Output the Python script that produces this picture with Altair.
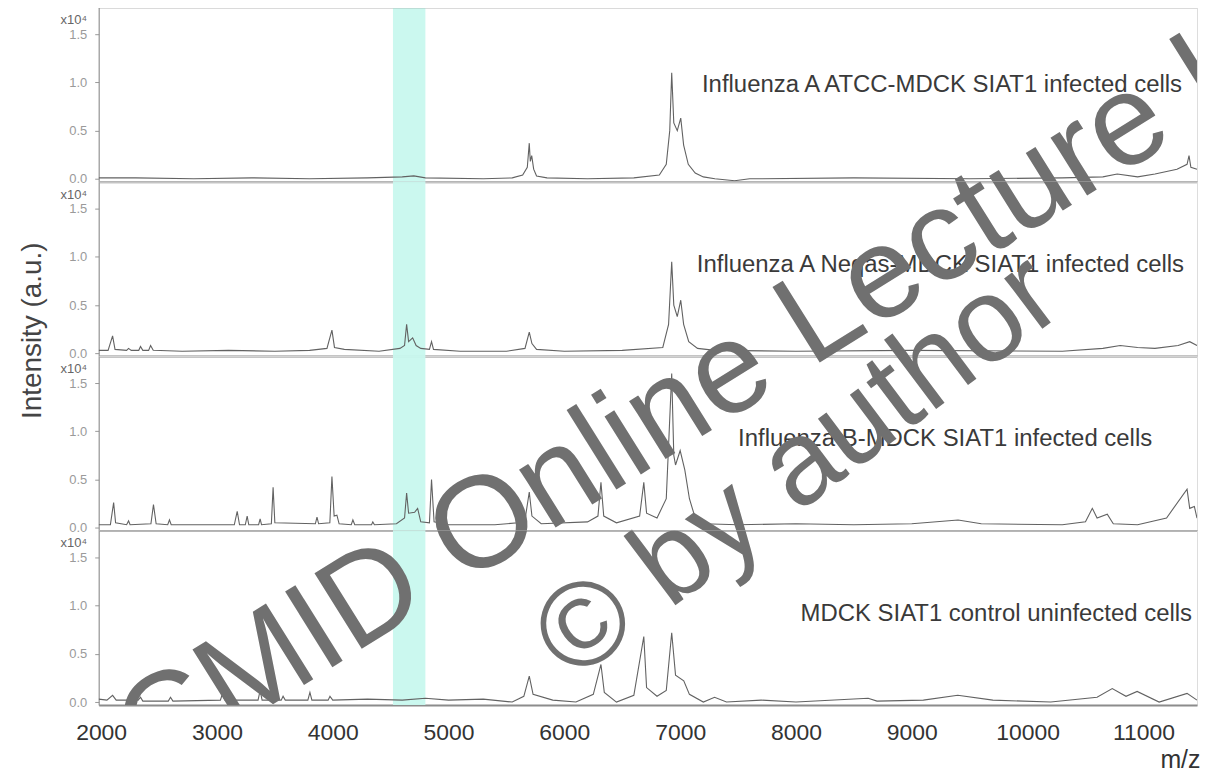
import altair as alt
import pandas as pd

# ---------------- data ----------------
mz_domain = [1979, 11463]
x_ticks = [2000, 3000, 4000, 5000, 6000, 7000, 8000, 9000, 10000, 11000]
y_ticks = [0.0, 0.5, 1.0, 1.5]
y_domain = [-0.03, 1.78]

panel_labels = [
    "Influenza A ATCC-MDCK SIAT1 infected cells",
    "Influenza A Neqas-MDCK SIAT1 infected cells",
    "Influenza B-MDCK SIAT1 infected cells",
    "MDCK SIAT1 control uninfected cells",
]

band_start = [4520]
band_end = [4800]

p1_mz = [1979, 2300, 2800, 3300, 3800, 4300, 4600, 4700, 4800, 5300,
         5550, 5640, 5680, 5697, 5706, 5718, 5735, 5760, 5850, 6200,
         6600, 6820, 6880, 6910, 6927, 6945, 6975, 7005, 7030, 7070,
         7130, 7200, 7300, 7470, 7600, 8500, 9500, 10300, 10650, 10774,
         10950, 11100, 11290, 11377, 11394, 11410, 11463]
p1_int = [0.01, 0.01, 0.0, 0.01, 0.0, 0.01, 0.02, 0.03, 0.01, 0.0,
          0.01, 0.04, 0.12, 0.37, 0.18, 0.24, 0.1, 0.03, 0.01, 0.0,
          0.01, 0.04, 0.15, 0.5, 1.1, 0.58, 0.5, 0.63, 0.35, 0.15,
          0.06, 0.02, 0.0, -0.02, 0.0, 0.01, 0.0, 0.01, 0.02, 0.05,
          0.02, 0.05, 0.1, 0.15, 0.24, 0.12, 0.1]

p2_mz = [1979, 2060, 2099, 2120, 2220, 2237, 2260, 2325, 2340, 2360,
         2410, 2427, 2450, 2700, 3100, 3500, 3800, 3950, 3993, 4015,
         4100, 4400, 4580, 4620, 4638, 4655, 4690, 4720, 4760, 4835,
         4853, 4870, 5100, 5500, 5660, 5697, 5720, 5760, 6000, 6500,
         6850, 6900, 6927, 6945, 6975, 7005, 7030, 7074, 7150, 7300,
         8000, 9000, 10300, 10650, 10800, 10950, 11100, 11300, 11400, 11463]
p2_int = [0.03, 0.03, 0.18, 0.04, 0.03, 0.05, 0.03, 0.03, 0.07, 0.03,
          0.03, 0.08, 0.03, 0.02, 0.03, 0.02, 0.03, 0.05, 0.24, 0.06,
          0.04, 0.02, 0.05, 0.08, 0.3, 0.12, 0.16, 0.08, 0.05, 0.04,
          0.12, 0.04, 0.02, 0.02, 0.05, 0.22, 0.1, 0.04, 0.02, 0.03,
          0.06, 0.3, 0.95, 0.5, 0.38, 0.55, 0.3, 0.12, 0.05, 0.03,
          0.02, 0.03, 0.02, 0.05, 0.08, 0.06, 0.05, 0.08, 0.12, 0.08]

p3_mz = [1979, 2080, 2108, 2125, 2220, 2237, 2250, 2430, 2452, 2475,
         2575, 2590, 2605, 3150, 3175, 3195, 3245, 3261, 3275, 3360,
         3373, 3385, 3470, 3485, 3500, 3850, 3864, 3878, 3975, 3993,
         4012, 4036, 4055, 4160, 4174, 4190, 4335, 4346, 4360, 4550,
         4620, 4638, 4655, 4707, 4733, 4760, 4835, 4853, 4875, 5000,
         5400, 5600, 5660, 5697, 5720, 5800, 6200, 6290, 6316, 6340,
         6450, 6650, 6686, 6710, 6800, 6880, 6927, 6945, 6960, 7000,
         7040, 7080, 7130, 7200, 7500, 8000, 8500, 9000, 9400, 9600,
         10300, 10500, 10559, 10600, 10688, 10740, 10950, 11200, 11377, 11400,
         11440, 11463]
p3_int = [0.03, 0.03, 0.26, 0.05, 0.03, 0.07, 0.03, 0.04, 0.24, 0.04,
          0.03, 0.08, 0.03, 0.03, 0.17, 0.03, 0.03, 0.12, 0.03, 0.03,
          0.09, 0.03, 0.04, 0.42, 0.05, 0.04, 0.11, 0.04, 0.05, 0.53,
          0.12, 0.13, 0.04, 0.03, 0.08, 0.03, 0.03, 0.06, 0.03, 0.04,
          0.1, 0.36, 0.15, 0.16, 0.2, 0.06, 0.05, 0.5, 0.06, 0.03,
          0.03, 0.05, 0.08, 0.37, 0.12, 0.04, 0.06, 0.12, 0.47, 0.12,
          0.05, 0.12, 0.47, 0.15, 0.1, 0.3, 1.6, 0.75, 0.65, 0.8,
          0.6, 0.3, 0.1, 0.04, 0.03, 0.04, 0.03, 0.04, 0.08, 0.04,
          0.03, 0.06, 0.2, 0.1, 0.14, 0.04, 0.03, 0.1, 0.4, 0.2,
          0.22, 0.1]

p4_mz = [1979, 2050, 2099, 2130, 2320, 2340, 2360, 2580, 2599, 2620,
         3030, 3046, 3070, 3355, 3373, 3390, 3555, 3571, 3590, 3785,
         3803, 3820, 3960, 3976, 4000, 4300, 4600, 4800, 5000, 5300,
         5550, 5650, 5697, 5730, 5900, 6100, 6250, 6316, 6345, 6450,
         6600, 6686, 6710, 6800, 6880, 6927, 6960, 7031, 7080, 7200,
         7297, 7400, 7700, 8000, 8623, 8700, 9100, 9397, 9700, 10200,
         10600, 10731, 10850, 10946, 11136, 11377, 11463]
p4_int = [0.03, 0.02, 0.07, 0.02, 0.02, 0.05, 0.01, 0.01, 0.05, 0.01,
          0.02, 0.08, 0.02, 0.02, 0.12, 0.02, 0.02, 0.06, 0.02, 0.02,
          0.1, 0.02, 0.02, 0.06, 0.02, 0.03, 0.02, 0.04, 0.02, 0.03,
          0.0, 0.06, 0.27, 0.08, 0.02, 0.0, 0.08, 0.39, 0.1, 0.0,
          0.07, 0.68, 0.15, 0.06, 0.12, 0.72, 0.28, 0.22, 0.08, 0.0,
          0.05, 0.0, 0.02, 0.0, 0.04, 0.01, 0.02, 0.07, 0.02, 0.0,
          0.05, 0.14, 0.06, 0.11, 0.0, 0.09, 0.02]

watermark_lines = ["ESCMID Online Lecture Library", "\u00a9 by author"]

# ---------------- styling ----------------
W, H = 1102, 175
FONT = "Liberation Sans"
LINE_COLOR = "#626262"
BAND_COLOR = "#c8f8ee"
AXIS_GRAY = "#8c8c8c"
WM_COLOR = "#707070"
PLOT_LEFT, PLOT_TOP = 98, 8   # page position of the plot origin

label_pos = [(1087, 78), (1089, 84), (1057, 83), (1097, 84)]
# watermark centres in page pixels
wm_style = [
    dict(cx=755, cy=360, angle=328, size=130),
    dict(cx=800, cy=470, angle=323, size=120),
]

spectra = [(p1_mz, p1_int), (p2_mz, p2_int), (p3_mz, p3_int), (p4_mz, p4_int)]

x_scale = alt.Scale(domain=mz_domain, nice=False, zero=False)
y_scale = alt.Scale(domain=y_domain, nice=False, zero=False)

panels = []
for i, (mz, inten) in enumerate(spectra):
    last = i == len(spectra) - 1
    if last:
        x_axis = alt.Axis(values=x_ticks, format="d", labelFontSize=23, labelColor="#333333",
                          labelFont=FONT, labelPadding=17, ticks=False, labelFlush=False,
                          domainColor=AXIS_GRAY, domainWidth=2, grid=False,
                          title="m/z", titleAnchor="end", titleAlign="right", titleX=W + 3,
                          titleFontSize=25, titleFont=FONT, titleFontWeight="normal",
                          titleColor="#333333", titlePadding=3)
    else:
        x_axis = alt.Axis(labels=False, ticks=False, title=None, grid=False,
                          domainColor=AXIS_GRAY, domainWidth=2)
    y_kw = dict(values=y_ticks, format=".1f", labelFontSize=13, labelColor="#9a9a9a",
                labelFont=FONT, tickColor="#9a9a9a", tickSize=4, labelPadding=8,
                domainColor=AXIS_GRAY, domainWidth=1, grid=False, labelFlush=False)
    if i == 1:
        y_axis = alt.Axis(title="Intensity (a.u.)", titleX=-66, titleY=149, titleAngle=270,
                          titleAlign="center", titleBaseline="middle", titleFontSize=28,
                          titleFont=FONT, titleFontWeight="normal", titleColor="#444444", **y_kw)
    else:
        y_axis = alt.Axis(title=None, **y_kw)

    df = pd.DataFrame({"mz": mz, "intensity": inten})
    band_df = pd.DataFrame({"start": band_start, "end": band_end})
    one = pd.DataFrame({"k": [0]})

    band = alt.Chart(band_df).mark_rect(color=BAND_COLOR, opacity=0.95).encode(
        x=alt.X("start:Q", scale=x_scale, axis=x_axis),
        x2="end:Q",
        y=alt.value(0), y2=alt.value(H),
    )
    line = alt.Chart(df).mark_line(color=LINE_COLOR, strokeWidth=1.1, clip=True).encode(
        x=alt.X("mz:Q", scale=x_scale, axis=x_axis),
        y=alt.Y("intensity:Q", scale=y_scale, axis=y_axis),
    )
    exp = alt.Chart(one).mark_text(align="center", baseline="middle", fontSize=13,
                                   font=FONT, color="#666666").encode(
        x=alt.value(-25), y=alt.value(13), text=alt.value("x10\u2074"))
    lx, ly = label_pos[i]
    lab = alt.Chart(one).mark_text(align="right", baseline="middle", fontSize=24,
                                   font=FONT, color="#3a3a3a").encode(
        x=alt.value(lx), y=alt.value(ly), text=alt.value(panel_labels[i]))
    layers = [band, line, exp, lab]
    if i == 0:
        top = alt.Chart(one).mark_rule(color=AXIS_GRAY, strokeWidth=2).encode(
            x=alt.value(0), x2=alt.value(W), y=alt.value(0))
        layers.append(top)
    for txt, st in zip(watermark_lines, wm_style):
        wm = alt.Chart(one).mark_text(align="center", baseline="middle", fontSize=st["size"],
                                      font=FONT, color=WM_COLOR, angle=st["angle"],
                                      clip=True).encode(
            x=alt.value(st["cx"] - PLOT_LEFT), y=alt.value(st["cy"] - PLOT_TOP - i * H),
            text=alt.value(txt))
        layers.append(wm)
    panels.append(alt.layer(*layers).properties(width=W, height=H))

chart = alt.vconcat(*panels, spacing=0, bounds="flush").properties(
    padding={"left": 10, "top": -4, "right": 0, "bottom": 0}
).configure_view(strokeWidth=0).configure(background="white")

chart.save("out.html", embed_options={"renderer": "svg", "actions": False})
